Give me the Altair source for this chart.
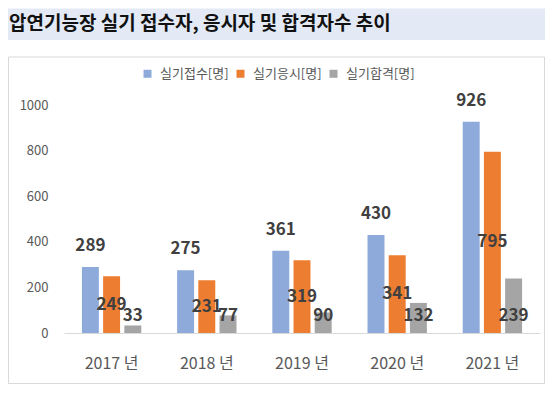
import altair as alt
import pandas as pd

# ---- data ----
years = ["2017 년", "2018 년", "2019 년", "2020 년", "2021 년"]
series = ["실기접수[명]", "실기응시[명]", "실기합격[명]"]
applied = [289, 275, 361, 430, 926]
took = [249, 231, 319, 341, 795]
passed = [33, 77, 90, 132, 239]
colors = ["#8eaadb", "#ed7d31", "#a5a5a5"]
y_ticks = [0, 200, 400, 600, 800, 1000]
title_text = "압연기능장 실기 접수자, 응시자 및 합격자수 추이"

rows = []
for s, vals in zip(series, [applied, took, passed]):
    for yr, v in zip(years, vals):
        rows.append({"year": yr, "series": s, "value": v})
df = pd.DataFrame(rows)

FONT = "Noto Sans CJK KR"
W, H = 476, 228

x_enc = alt.X(
    "year:N", sort=years,
    scale=alt.Scale(paddingInner=0, paddingOuter=0),
    axis=alt.Axis(title=None, labelAngle=0, labelFontSize=16, labelColor="#595959",
                  labelFont=FONT, labelPadding=22, ticks=False,
                  domainColor="#d9d9d9", domainWidth=1),
)
xo_enc = alt.XOffset("series:N", sort=series,
                     scale=alt.Scale(paddingInner=0.2, paddingOuter=0.845))
y_scale = alt.Scale(domain=[0, 1000], nice=False, zero=True)

base = alt.Chart(df)

bars = base.mark_bar().encode(
    x=x_enc,
    xOffset=xo_enc,
    y=alt.Y("value:Q", scale=y_scale,
            axis=alt.Axis(title=None, values=y_ticks, format="d", domain=False, ticks=False,
                          grid=False, labelPadding=16, labelFontSize=13,
                          labelColor="#595959", labelFont=FONT)),
    color=alt.Color("series:N", sort=series,
                    scale=alt.Scale(domain=series, range=colors),
                    legend=alt.Legend(title=None, orient="none", legendX=77, legendY=-38,
                                      direction="horizontal", symbolType="square",
                                      symbolSize=64, symbolStrokeWidth=0,
                                      labelFont=FONT, labelFontSize=13,
                                      labelColor="#595959", labelOffset=6,
                                      columnPadding=5)),
)

txt = dict(baseline="middle", fontWeight="bold", fontSize=17, color="#404040", font=FONT)

t_applied = base.transform_filter(alt.datum.series == series[0]).mark_text(dy=-21, **txt).encode(
    x=x_enc, xOffset=xo_enc, y=alt.Y("value:Q"), text="value:Q")
t_took = base.transform_filter(alt.datum.series == series[1]).transform_calculate(
    half="datum.value / 2").mark_text(**txt).encode(
    x=x_enc, xOffset=xo_enc, y=alt.Y("half:Q"), text="value:Q")
t_passed = base.transform_filter(alt.datum.series == series[2]).transform_calculate(
    zero="0").mark_text(dy=-17, **txt).encode(
    x=x_enc, xOffset=xo_enc, y=alt.Y("zero:Q"), text="value:Q")

deco = alt.Chart(alt.Data(values=[{"k": 1}]))
band = deco.mark_rect(fill="#e3eaf6").encode(
    x=alt.value(-56), x2=alt.value(481), y=alt.value(-96.5), y2=alt.value(-65))
box = deco.mark_rect(fill="white", fillOpacity=0, stroke="#d9d9d9", strokeWidth=1).encode(
    x=alt.value(-55.5), x2=alt.value(480.5), y=alt.value(-48), y2=alt.value(278.5))
title = deco.mark_text(text=title_text, align="left", baseline="middle", fontSize=19,
                       fontWeight="bold", font=FONT, color="#111111").encode(
    x=alt.value(-55), y=alt.value(-81.5))

chart = alt.layer(band, box, title, bars, t_applied, t_took, t_passed).properties(
    width=W, height=H, padding=0, background="white"
).configure_view(strokeWidth=0)

chart.save("out.html", embed_options={"renderer": "svg", "actions": False})
